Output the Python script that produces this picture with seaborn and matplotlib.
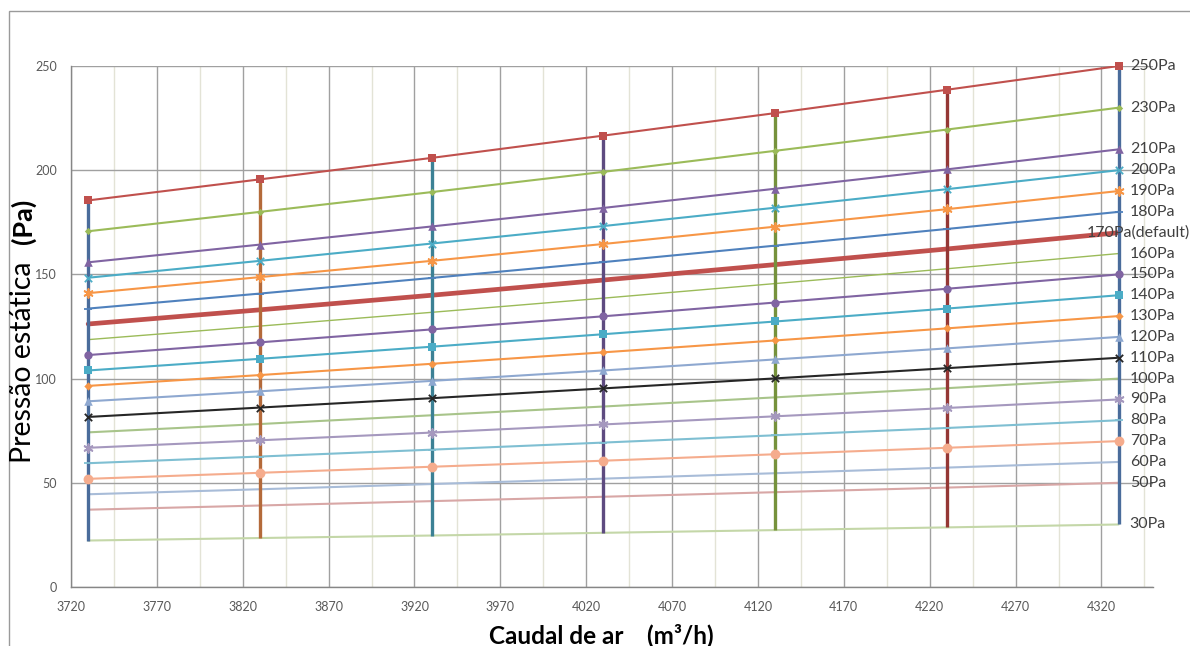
import matplotlib
matplotlib.use('Agg')
import matplotlib.pyplot as plt
import seaborn as sns
from matplotlib.patches import Rectangle

# air flow points (m3/h) where the curves were measured
airflow = [3730, 3830, 3930, 4030, 4130, 4230, 4330]

# static pressure curves (Pa), one per fan setting
p250 = [185.5, 195.6, 205.9, 216.6, 227.4, 238.6, 250]
p230 = [170.7, 180.0, 189.5, 199.2, 209.3, 219.5, 230]
p210 = [155.8, 164.3, 173.0, 181.9, 191.1, 200.4, 210]
p200 = [148.4, 156.5, 164.8, 173.2, 182.0, 190.9, 200]
p190 = [141.0, 148.7, 156.5, 164.6, 172.9, 181.3, 190]
p180 = [133.6, 140.8, 148.3, 155.9, 163.8, 171.8, 180]
p170 = [126.2, 133.0, 140.0, 147.3, 154.7, 162.2, 170]
p160 = [118.7, 125.2, 131.8, 138.6, 145.6, 152.7, 160]
p150 = [111.3, 117.4, 123.6, 129.9, 136.5, 143.1, 150]
p140 = [103.9, 109.5, 115.3, 121.3, 127.4, 133.6, 140]
p130 = [96.5, 101.7, 107.1, 112.6, 118.3, 124.1, 130]
p120 = [89.1, 93.9, 98.9, 103.9, 109.2, 114.5, 120]
p110 = [81.6, 86.1, 90.6, 95.3, 100.1, 105.0, 110]
p100 = [74.2, 78.2, 82.4, 86.6, 91.0, 95.4, 100]
p90 = [66.8, 70.4, 74.1, 78.0, 81.9, 85.9, 90]
p80 = [59.4, 62.6, 65.9, 69.3, 72.8, 76.3, 80]
p70 = [51.9, 54.8, 57.7, 60.6, 63.7, 66.8, 70]
p60 = [44.5, 46.9, 49.4, 52.0, 54.6, 57.3, 60]
p50 = [37.1, 39.1, 41.2, 43.3, 45.5, 47.7, 50]
p30 = [22.3, 23.5, 24.7, 26.0, 27.3, 28.6, 30]

labels = ['250Pa', '230Pa', '210Pa', '200Pa', '190Pa', '180Pa', '170Pa(default)',
          '160Pa', '150Pa', '140Pa', '130Pa', '120Pa', '110Pa', '100Pa', '90Pa',
          '80Pa', '70Pa', '60Pa', '50Pa', '30Pa']
curves = [p250, p230, p210, p200, p190, p180, p170, p160, p150, p140, p130,
          p120, p110, p100, p90, p80, p70, p60, p50, p30]

# look of each curve: colour, line width, marker, marker size
styles = [
    ('#C0504D', 1.5, 's', 34), ('#9BBB59', 1.5, 'D', 14), ('#8064A2', 1.5, '^', 38),
    ('#4BACC6', 1.5, 'x', 28), ('#F79646', 1.5, (6, 2, 0), 40), ('#4F81BD', 1.5, '_', 40),
    ('#C0504D', 3.4, None, 0), ('#9BBB59', 1.0, None, 0), ('#8064A2', 1.5, 'o', 36),
    ('#4BACC6', 1.5, 's', 34), ('#F79646', 1.5, 'D', 18), ('#8EA8D0', 1.5, '^', 38),
    ('#262626', 1.5, 'x', 28), ('#A8C48A', 1.5, None, 0), ('#A598BE', 1.5, (6, 2, 0), 40),
    ('#7FBFD2', 1.5, '_', 40), ('#F5AC8D', 1.5, 'o', 50), ('#A8BCD8', 1.5, None, 0),
    ('#D8A7A6', 1.5, None, 0), ('#C4D7A8', 1.5, None, 0),
]
vline_colors = ['#4A6C9B', '#B46A3A', '#3C8195', '#5E4B80', '#76923C', '#953735', '#4A6C9B']

sns.set_style('white')
plt.rcParams['font.family'] = ['Lato', 'DejaVu Sans']

fig = plt.figure(figsize=(11.9, 6.46), dpi=100)
ax = fig.add_axes([71 / 1190, 1 - 587 / 646, (1153 - 71) / 1190, (587 - 66) / 646])

# chart border (only left / top visible in the crop)
fig.patches.append(Rectangle((9 / 1190, -0.5), 1.5, 0.5 + (1 - 11 / 646), fill=False,
                             edgecolor='#9A9A9A', lw=1, transform=fig.transFigure))

for vals, (c, lw, mk, ms) in zip(curves, styles):
    sns.lineplot(x=airflow, y=vals, ax=ax, color=c, lw=lw, zorder=2, legend=False)

# vertical lines between the lowest and highest curve at each flow point
ax.vlines(airflow, p30, p250, colors=vline_colors, lw=2.4, zorder=3)

for vals, (c, lw, mk, ms) in zip(curves, styles):
    if mk is None:
        continue
    if mk in ('x', '_') or isinstance(mk, tuple):
        sns.scatterplot(x=airflow, y=vals, ax=ax, color=c, marker=mk, s=ms,
                        linewidth=1.3, zorder=4, legend=False, clip_on=False)
    else:
        sns.scatterplot(x=airflow, y=vals, ax=ax, color=c, marker=mk, s=ms,
                        edgecolor=c, linewidth=0, zorder=4, legend=False, clip_on=False)

for lab, vals in zip(labels, curves):
    dx = -23 if 'default' in lab else 8
    ax.annotate(lab, xy=(airflow[-1], vals[-1]), xytext=(dx, 0), textcoords='offset points',
                ha='left', va='center', fontsize=11.5, color='#404040', zorder=6)

ax.set_xlim(3720, 4350)
ax.set_ylim(0, 250)
ax.set_xticks(range(3720, 4321, 50))
ax.set_xticks(range(3745, 4346, 50), minor=True)
ax.set_yticks(range(0, 251, 50))
ax.grid(which='major', axis='both', color='#A0A0A0', lw=1, zorder=0)
ax.grid(which='minor', axis='x', color='#E3E3D6', lw=1, zorder=0)
ax.set_axisbelow(True)
for s in ['top', 'right']:
    ax.spines[s].set_visible(False)
for s in ['left', 'bottom']:
    ax.spines[s].set_color('#868686')
    ax.spines[s].set_linewidth(1)
ax.tick_params(axis='both', which='major', length=4, width=1, color='#868686',
               labelsize=9, labelcolor='#595959', pad=6)
ax.tick_params(axis='both', which='minor', length=0)
ax.set_xlabel('')
ax.set_ylabel('')

fig.text(601 / 1190, 1 - 635 / 646, 'Caudal de ar    (m\u00b3/h)', ha='center', va='center',
         fontsize=17.5, fontweight='bold', color='black')
fig.text(23 / 1190, 1 - 362 / 646, 'Press\u00e3o est\u00e1tica', ha='center', va='center',
         rotation=90, fontsize=20.5, color='black')
fig.text(23 / 1190, 1 - 221 / 646, '(Pa)', ha='center', va='center',
         rotation=90, fontsize=19.5, fontweight='bold', color='black')

fig.savefig('out.png', dpi=100)
